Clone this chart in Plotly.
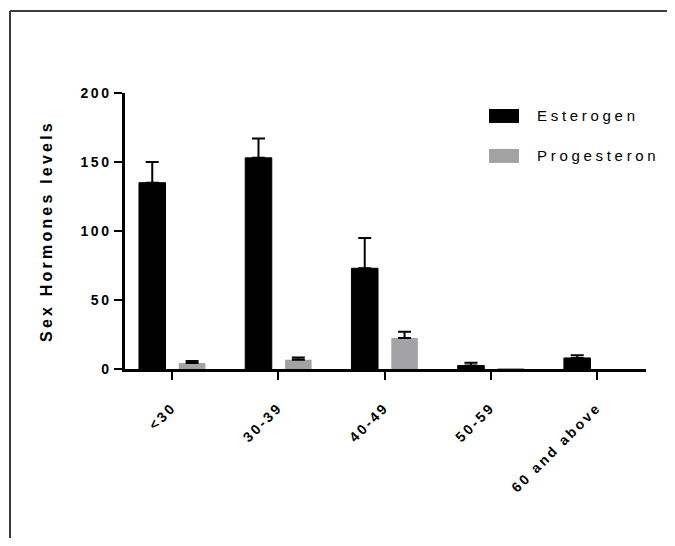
import plotly.graph_objects as go

# ---- data ----
categories = ["<30", "30-39", "40-49", "50-59", "60 and above"]
esterogen = [135, 153, 73, 2.5, 8]
esterogen_err = [15, 14, 22, 2, 2]
progesteron = [4.3, 6.7, 22.5, 0.7, 0]
progesteron_err = [1.5, 1.7, 4.5, None, None]
y_ticks = [0, 50, 100, 150, 200]
series_names = ["Esterogen", "Progesteron"]
y_title = "Sex Hormones levels"

# ---- geometry (page has an 8px body margin on every side) ----
OFF = 8
W, H = 675 - 2 * OFF, 546 - 2 * OFF
ML = 125 - OFF
MT = 93 - OFF
PW = 521
PH = 276.3
MR = W - ML - PW
MB = H - MT - PH


def xp(px):
    return (px - OFF - ML) / PW


def yp(py):
    return (MT + PH - (py - OFF)) / PH


def spaced(s, px):
    s = s.replace("&", "&amp;").replace("<", "&lt;").replace(">", "&gt;")
    return f'<span style="letter-spacing:{px}px">{s}</span>'


def err_array(errs):
    # trailing missing values -> no error bar drawn for those points
    out = list(errs)
    while out and out[-1] is None:
        out.pop()
    return out


BLACK = "#000000"
GRAY = "#a3a3a5"
FONT = "Arial, 'Liberation Sans', sans-serif"

xpos = list(range(len(categories)))

fig = go.Figure()
e_arr = err_array(esterogen_err)
fig.add_bar(
    x=xpos, y=esterogen, name=series_names[0],
    width=0.25, offset=-0.3125,
    marker=dict(color=BLACK, line=dict(color=BLACK, width=1)),
    error_y=dict(type="data", array=e_arr, arrayminus=[0] * len(e_arr),
                 symmetric=False, color=BLACK, thickness=2, width=6.5),
)
p_arr = err_array(progesteron_err)
fig.add_bar(
    x=xpos, y=progesteron, name=series_names[1],
    width=0.25, offset=0.0625,
    marker=dict(color=GRAY, line=dict(color=GRAY, width=0)),
    error_y=dict(type="data", array=p_arr, arrayminus=[0] * len(p_arr),
                 symmetric=False, color=BLACK, thickness=2, width=6.5),
)

fig.update_layout(
    width=W, height=H,
    margin=dict(l=ML, r=MR, t=MT, b=MB, pad=0),
    paper_bgcolor="white", plot_bgcolor="white",
    barmode="overlay", showlegend=False,
    font=dict(family=FONT, color=BLACK),
    xaxis=dict(
        range=[-0.444, 4.46], tickmode="array", tickvals=xpos,
        ticktext=[spaced(c, 2.6) for c in categories],
        tickangle=-45, ticks="outside", ticklen=8, tickwidth=2, tickcolor=BLACK,
        ticklabelstandoff=14,
        showline=True, linecolor=BLACK, linewidth=2.5,
        showgrid=False, zeroline=False,
        tickfont=dict(size=14, family=FONT, weight="bold", color=BLACK),
    ),
    yaxis=dict(
        range=[0, 200], tickmode="array", tickvals=y_ticks,
        ticktext=[spaced(str(t), 2.5) for t in y_ticks],
        ticks="outside", ticklen=8, tickwidth=2, tickcolor=BLACK,
        showline=True, linecolor=BLACK, linewidth=2.5,
        showgrid=False, zeroline=False,
        tickfont=dict(size=14, family=FONT, weight="bold", color=BLACK),
        title=dict(text=spaced(y_title, 3.2), standoff=24,
                   font=dict(size=16, family=FONT, weight="bold", color=BLACK)),
    ),
)

# manual legend
legend_items = [(series_names[0], BLACK, 116), (series_names[1], GRAY, 156)]
for name, col, cy in legend_items:
    fig.add_shape(type="rect", xref="paper", yref="paper",
                  x0=xp(489), x1=xp(519), y0=yp(cy + 7), y1=yp(cy - 7),
                  fillcolor=col, line=dict(width=0))
    fig.add_annotation(xref="paper", yref="paper", x=xp(535), y=yp(cy),
                       xanchor="left", yanchor="middle", showarrow=False,
                       text=spaced(name, 3.7),
                       font=dict(size=15, family=FONT, color=BLACK))

# outer frame (top and left edges)
frame = dict(color="#3c3c3c", width=2)
fig.add_shape(type="line", xref="paper", yref="paper",
              x0=xp(10), y0=yp(11), x1=xp(690), y1=yp(11), line=frame)
fig.add_shape(type="line", xref="paper", yref="paper",
              x0=xp(10), y0=yp(11), x1=xp(10), y1=yp(560), line=frame)

fig.write_html("out.html")
